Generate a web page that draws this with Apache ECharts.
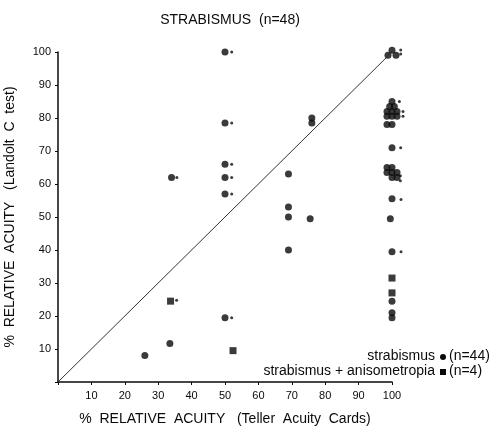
<!DOCTYPE html>
<html><head><meta charset="utf-8">
<script src="https://cdn.jsdelivr.net/npm/echarts@6/dist/echarts.min.js"></script>
<style>html,body{margin:0;padding:0;background:#fff}#c{width:497px;height:434px}</style>
</head><body><div id="c"></div>
<script>
const titleText = 'STRABISMUS  (n=48)';
const xTicks = [10,20,30,40,50,60,70,80,90,100];
const yTicks = [10,20,30,40,50,60,70,80,90,100];
// strabismus (circles)
const strabismus = [
  [26,8],[33.5,11.7],[34,62],
  [50,100],[50,78.5],[50,66],[50,62],[50,57],[50,19.5],
  [69,63],[69,53],[69,50],[69,40],
  [76,80],[76,78.5],[75.5,49.5],
  [100,100.5],[98.8,99],[101.2,99],
  [100,85],
  [99.3,83.5],[100.7,83.5],
  [98.5,82],[100,82],[101.5,82],
  [98.5,80.5],[100,80.5],[101.5,80.5],
  [98.5,78],[100,78],
  [100,71],
  [98.5,65],[100,65],
  [98.5,63.5],[100,63.5],[101.5,63.5],
  [100,62],[101.5,62],
  [100,55.5],
  [99.5,49.5],
  [100,39.5],
  [100,24.5],[100,21],[100,19.5]
];
// strabismus + anisometropia (squares)
const anisometropia = [[33.7,24.5],[52.4,9.5],[100,31.5],[100,27]];
// small annotation dots next to markers
const smallDots = [
  [35.6,62],[35.5,24.8],
  [52,100],[52,78.5],[52,66],[52,62],[52,57],[52,19.5],
  [102.6,100.6],[102.6,99.4],[102.2,85],[103.3,82],[103.3,80.5],
  [102.6,71],[102.5,62.5],[102.5,61],[102.7,55.3],[102.7,39.5]
];
const diagonal = [[0,0],[100,100]];
const legendRows = ['strabismus','strabismus + anisometropia'];
const legendCounts = ['(n=44)','(n=4)'];

const FONT = '"Liberation Sans", Arial, sans-serif';
const INK = '#0a0a0a';
const chart = echarts.init(document.getElementById('c'));
chart.setOption({
  backgroundColor:'#fff',
  animation:false,
  title:{text:titleText,left:225,textAlign:'center',top:8,
    textStyle:{fontFamily:FONT,fontSize:14,fontWeight:'normal',color:INK}},
  grid:{left:58,right:105,top:52,bottom:52,containLabel:false,outerBoundsMode:'none'},
  xAxis:{type:'value',min:0,max:100,interval:10,
    name:'%  RELATIVE  ACUITY   (Teller  Acuity  Cards)',nameLocation:'middle',nameGap:30,
    nameTextStyle:{fontFamily:FONT,fontSize:14,color:INK},
    axisLine:{lineStyle:{color:INK,width:1.5}},
    axisTick:{show:true,length:3,lineStyle:{color:INK}},
    splitLine:{show:false},
    axisLabel:{fontFamily:FONT,fontSize:11,color:INK,margin:8,
      formatter:v=>xTicks.includes(v)?String(v):''}},
  yAxis:{type:'value',min:0,max:100,interval:10,
    name:'%  RELATIVE  ACUITY   (Landolt  C  test)',nameLocation:'middle',nameGap:41,
    nameTextStyle:{fontFamily:FONT,fontSize:14,color:INK},
    axisLine:{show:true,lineStyle:{color:INK,width:1.5}},
    axisTick:{show:true,length:3,lineStyle:{color:INK}},
    splitLine:{show:false},
    axisLabel:{fontFamily:FONT,fontSize:11,color:INK,margin:7,
      formatter:v=>yTicks.includes(v)?String(v):''}},
  graphic:[
    {type:'text',right:62,top:349,style:{text:legendRows[0],font:'14px '+FONT,fill:INK,textAlign:'right'}},
    {type:'circle',shape:{cx:443,cy:357,r:3},style:{fill:INK}},
    {type:'text',left:449,top:349,style:{text:legendCounts[0],font:'14px '+FONT,fill:INK}},
    {type:'text',right:62,top:364,style:{text:legendRows[1],font:'14px '+FONT,fill:INK,textAlign:'right'}},
    {type:'rect',shape:{x:440,y:369,width:6,height:6},style:{fill:INK}},
    {type:'text',left:449,top:364,style:{text:legendCounts[1],font:'14px '+FONT,fill:INK}}
  ],
  series:[
    {type:'line',data:diagonal,symbol:'none',silent:true,
      lineStyle:{color:'#333',width:1}},
    {type:'scatter',name:legendRows[0],data:strabismus,symbol:'circle',symbolSize:7,clip:false,
      itemStyle:{color:INK}},
    {type:'scatter',name:legendRows[1],data:anisometropia,symbol:'rect',symbolSize:7,clip:false,
      itemStyle:{color:INK}},
    {type:'scatter',data:smallDots,symbol:'circle',symbolSize:3,clip:false,
      itemStyle:{color:INK}}
  ]
});
</script></body></html>
